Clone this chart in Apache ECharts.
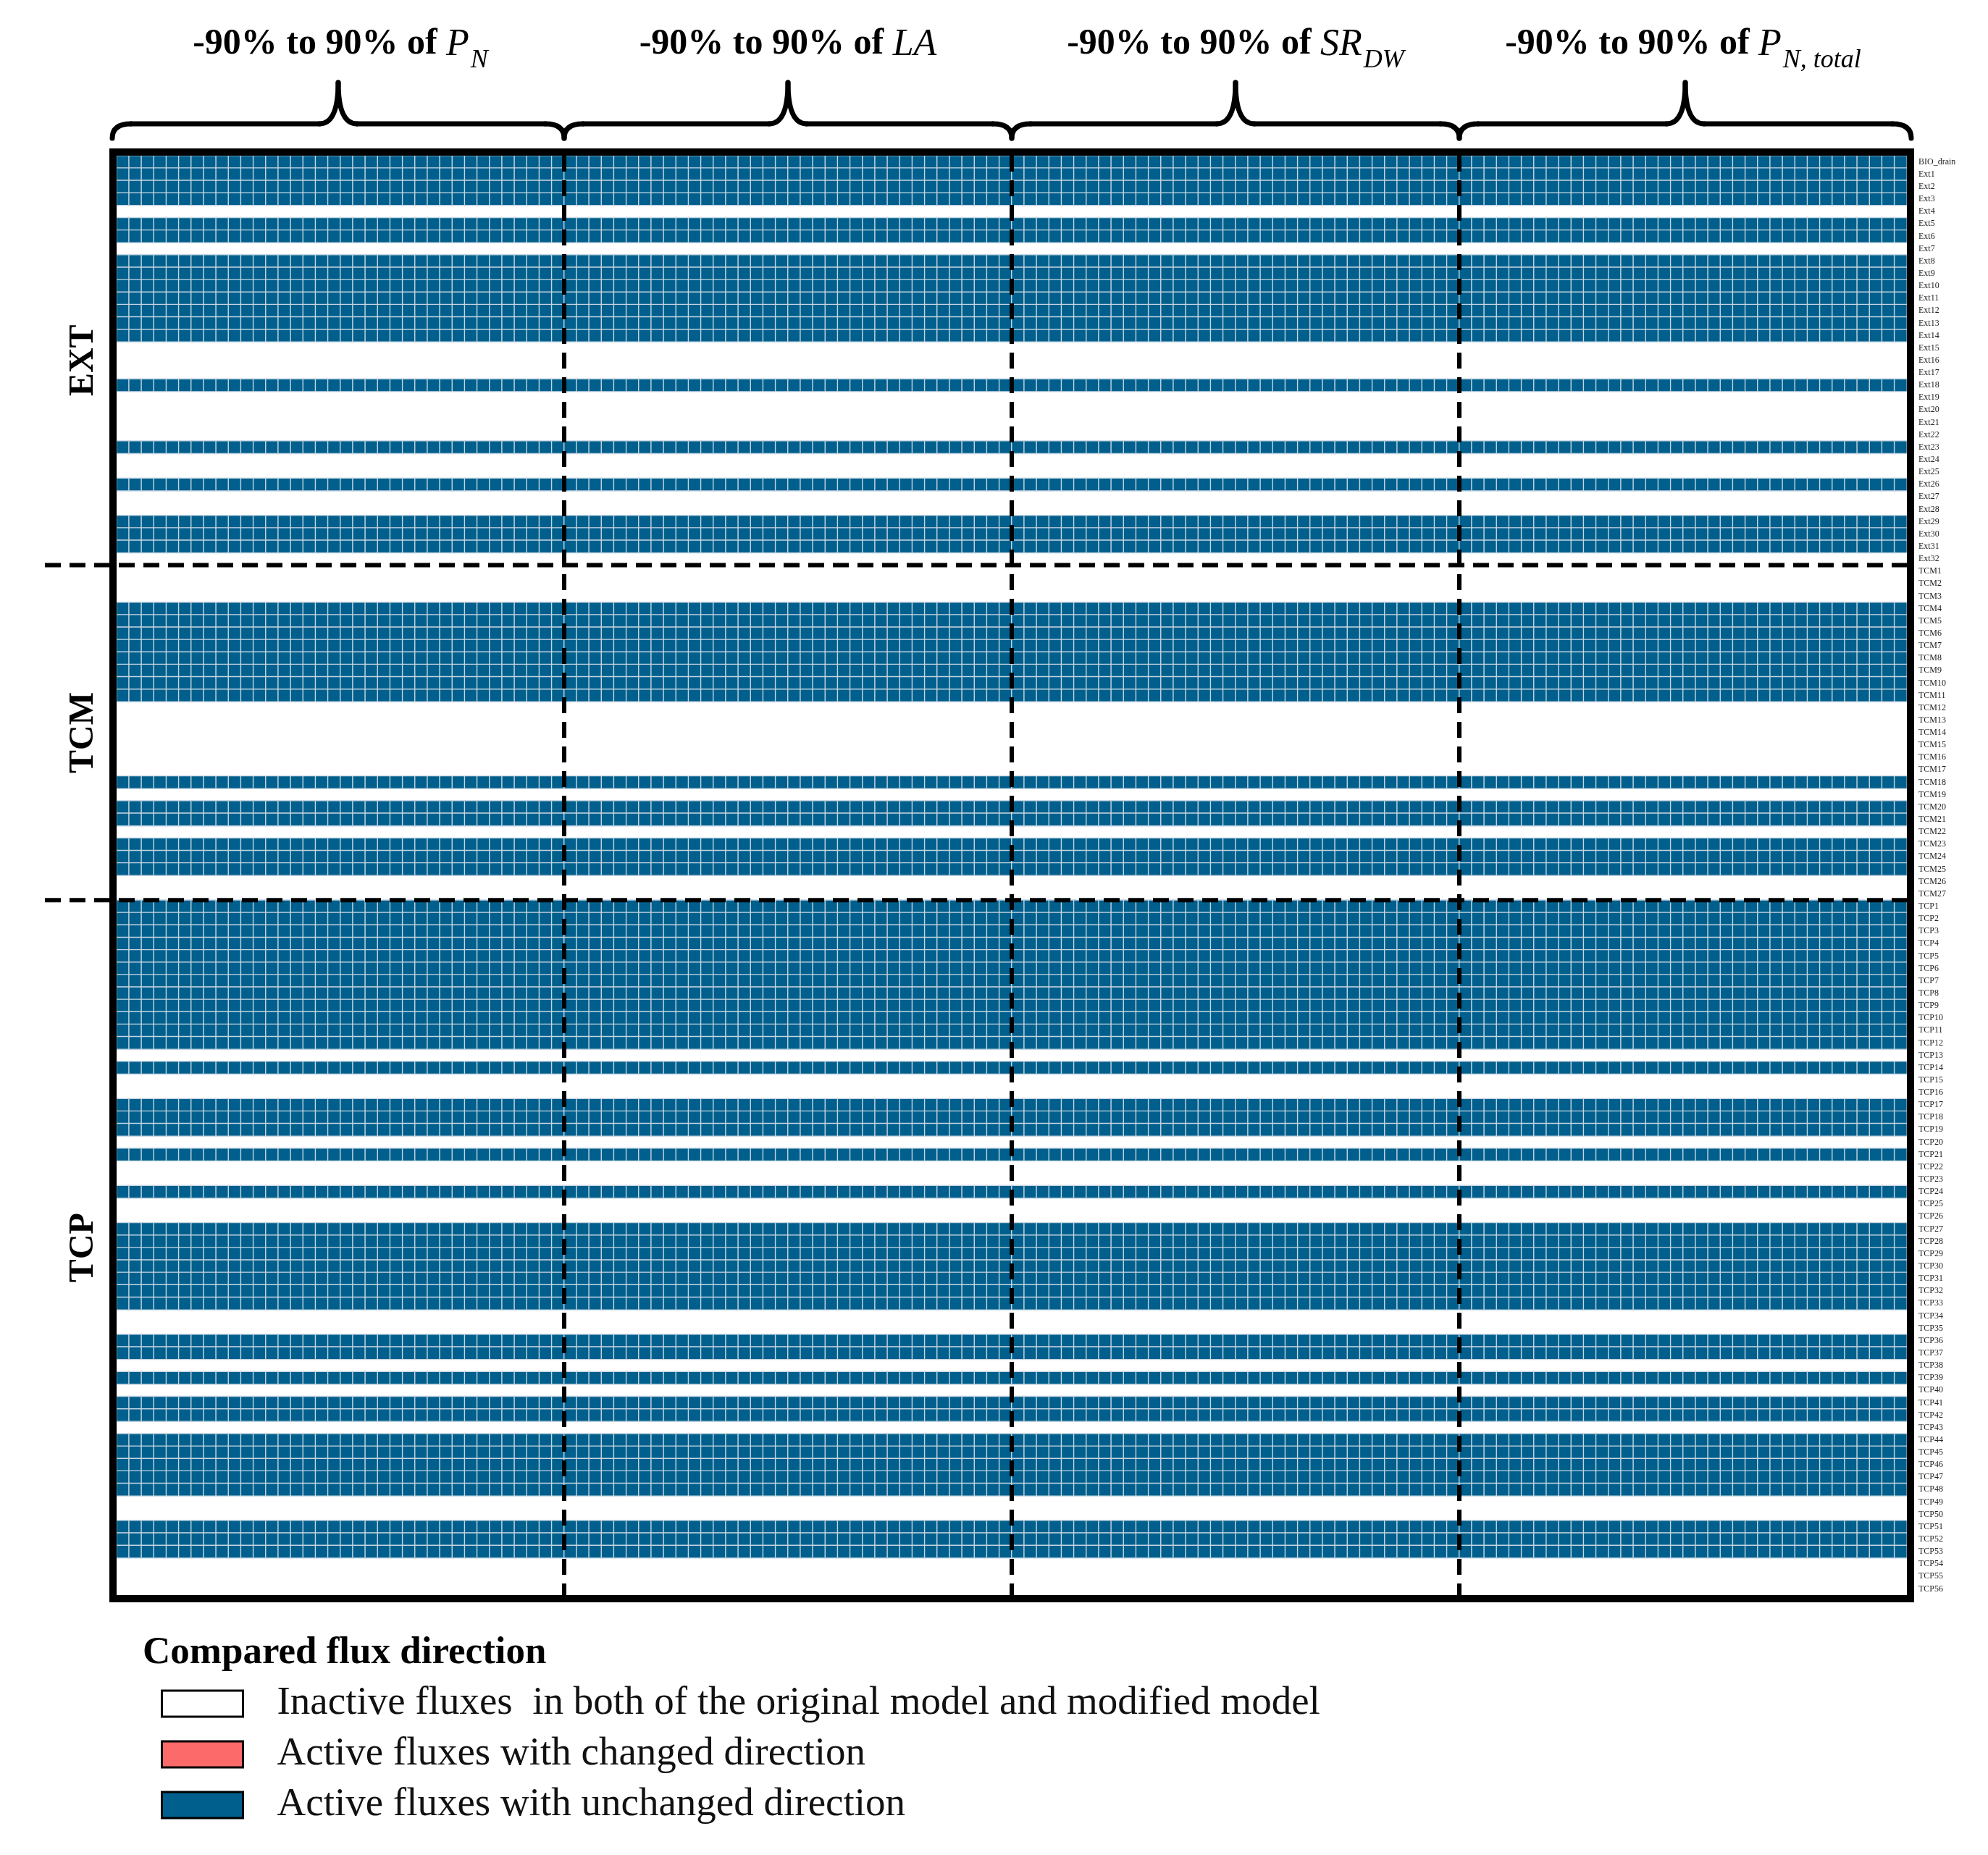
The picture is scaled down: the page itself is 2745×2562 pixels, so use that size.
<!DOCTYPE html>
<html>
<head>
<meta charset="utf-8">
<script src="https://cdn.jsdelivr.net/npm/echarts@6/dist/echarts.min.js"></script>
<style>
html,body{margin:0;padding:0;background:#ffffff;}
#chart{width:2745px;height:2562px;}
</style>
</head>
<body>
<div id="chart"></div>
<script>
// ---------------- DATA ----------------
const parameters = ['P_N', 'LA', 'SR_DW', 'P_N,total'];
const perturbations = ['-90%','-85%','-80%','-75%','-70%','-65%','-60%','-55%','-50%','-45%','-40%','-35%','-30%','-25%','-20%','-15%','-10%','-5%',
                       '5%','10%','15%','20%','25%','30%','35%','40%','45%','50%','55%','60%','65%','70%','75%','80%','85%','90%'];

const extRows = ['BIO_drain'].concat(Array.from({length: 32}, (_, i) => 'Ext' + (i + 1)));
const tcmRows = Array.from({length: 27}, (_, i) => 'TCM' + (i + 1));
const tcpRows = Array.from({length: 56}, (_, i) => 'TCP' + (i + 1));

// status: 0 = inactive in both models, 1 = active with changed direction, 2 = active with unchanged direction
const extStatus = [2,2,2,2,0,2,2,0,2,2,2,2,2,2,2,0,0,0,2,0,0,0,0,2,0,0,2,0,0,2,2,2,0];
const tcmStatus = [0,0,0,2,2,2,2,2,2,2,2,0,0,0,0,0,0,2,0,2,2,0,2,2,2,0,0];
const tcpStatus = [2,2,2,2,2,2,2,2,2,2,2,2,0,2,0,0,2,2,2,0,2,0,0,2,0,0,2,2,2,2,2,2,2,0,0,2,2,0,2,0,2,2,0,2,2,2,2,2,0,0,2,2,2,0,0,0];

const statusNames = ['Inactive fluxes  in both of the original model and modified model',
                     'Active fluxes with changed direction',
                     'Active fluxes with unchanged direction'];
const sectionNames = ['EXT', 'TCM', 'TCP'];

(function () {
// ---------------- BUILD ----------------
const statusColors = ['#ffffff', '#fd6a6a', '#005f8c'];
const rowLabels = extRows.concat(tcmRows, tcpRows);
const rowStatus = extStatus.concat(tcmStatus, tcpStatus);
const xCats = [];
parameters.forEach(p => perturbations.forEach(q => xCats.push(p + ' ' + q)));
const seriesData = [[], [], []];
xCats.forEach((xc, ci) => {
  rowLabels.forEach((rl, ri) => {
    const s = rowStatus[ri];
    seriesData[s].push([ci, ri, s]);
  });
});

const FONT = '"Liberation Serif", "Times New Roman", serif';
const chart = echarts.init(document.getElementById('chart'), null, {renderer: 'canvas'});

chart.setOption({
  animation: false,
  backgroundColor: '#ffffff',
  title: {
    text: 'Compared flux direction',
    left: 197, top: 2257, padding: 0,
    textStyle: {fontFamily: FONT, fontSize: 53, fontWeight: 'bold', color: '#000'}
  },
  legend: {
    orient: 'vertical',
    left: 222, top: 2324, padding: 0,
    itemWidth: 112, itemHeight: 36, itemGap: 12,
    icon: 'rect', selectedMode: false,
    itemStyle: {borderColor: '#000', borderWidth: 3},
    textStyle: {fontFamily: FONT, fontSize: 55, color: '#111', lineHeight: 58, padding: [0, 0, 0, 42]},
    data: statusNames
  },
  grid: {left: 161, top: 215, right: 112, bottom: 359, containLabel: false},
  xAxis: {type: 'category', data: xCats, show: false},
  yAxis: {
    type: 'category', data: rowLabels, inverse: true, position: 'right',
    axisLine: {show: false}, axisTick: {show: false}, splitLine: {show: false},
    axisLabel: {interval: 0, fontFamily: FONT, fontSize: 12, color: '#222', margin: 16}
  },
  visualMap: {
    type: 'piecewise', show: false, dimension: 2, seriesIndex: [0, 1, 2],
    pieces: [{value: 0, color: statusColors[0]}, {value: 1, color: statusColors[1]}, {value: 2, color: statusColors[2]}]
  },
  series: statusNames.map((name, s) => ({
    name: name, type: 'heatmap', data: seriesData[s],
    progressive: 0,
    itemStyle: {color: statusColors[s], borderColor: s === 0 ? '#ffffff' : '#c4d5e1', borderWidth: s === 0 ? 0 : 1.4},
    emphasis: {disabled: true}
  }))
});

// ---------------- DECORATION (positions from the axes) ----------------
function px(ci) { return chart.convertToPixel({xAxisIndex: 0}, xCats[ci]); }
function py(ri) { return chart.convertToPixel({yAxisIndex: 0}, rowLabels[ri]); }
const cellW = px(1) - px(0);
const cellH = py(1) - py(0);
const gL = px(0) - cellW / 2;
const gR = px(xCats.length - 1) + cellW / 2;
const gT = py(0) - cellH / 2;
const gB = py(rowLabels.length - 1) + cellH / 2;
const nPer = perturbations.length;
const bX = g => gL + g * nPer * cellW;

const gfx = [];
gfx.push({type: 'rect', z: 100, shape: {x: gL - 5, y: gT - 5, width: gR - gL + 10, height: gB - gT + 10},
  style: {fill: 'none', stroke: '#000', lineWidth: 10}});
for (let g = 1; g < parameters.length; g++) {
  gfx.push({type: 'line', z: 101, shape: {x1: bX(g), y1: gT, x2: bX(g), y2: gB},
    style: {stroke: '#000', lineWidth: 6, lineDash: [22, 12]}});
}
const secStarts = [0, extRows.length, extRows.length + tcmRows.length, rowLabels.length];
for (let k = 1; k < 3; k++) {
  const yb = gT + secStarts[k] * cellH;
  gfx.push({type: 'line', z: 101, shape: {x1: 62, y1: yb, x2: gR + 8, y2: yb},
    style: {stroke: '#000', lineWidth: 6, lineDash: [22, 12]}});
}
for (let k = 0; k < 3; k++) {
  const ym = gT + (secStarts[k] + secStarts[k + 1]) / 2 * cellH;
  gfx.push({type: 'text', z: 101, x: 116, y: ym, rotation: Math.PI / 2,
    style: {text: sectionNames[k], fontFamily: FONT, fontSize: 48, fontWeight: 'bold', fill: '#000', align: 'center', verticalAlign: 'middle'}});
}
const titleRich = [
  '{b|-90% to 90% of }{i|P}{s|N}',
  '{b|-90% to 90% of }{i|LA}',
  '{b|-90% to 90% of }{i|SR}{s|DW}',
  '{b|-90% to 90% of }{i|P}{s|N, total}'
];
const yEnd = gT - 24, yBar = gT - 44, yTip = gT - 101, r = 26;
const bst = {fill: 'none', stroke: '#000', lineWidth: 7, lineCap: 'round'};
function curve(xa, ya, cx, cy, xb, yb) {
  return {type: 'bezierCurve', z: 101, shape: {x1: xa, y1: ya, cpx1: cx, cpy1: cy, x2: xb, y2: yb}, style: bst};
}
function seg(xa, ya, xb, yb) {
  return {type: 'line', z: 101, shape: {x1: xa, y1: ya, x2: xb, y2: yb}, style: bst};
}
for (let g = 0; g < parameters.length; g++) {
  const x0 = g === 0 ? gL - 6 : bX(g);
  const x1 = g === parameters.length - 1 ? gR + 6 : bX(g + 1);
  const xm = (x0 + x1) / 2;
  gfx.push(curve(x0, yEnd, x0, yBar, x0 + r, yBar));
  gfx.push(seg(x0 + r, yBar, xm - r, yBar));
  gfx.push(curve(xm - r, yBar, xm, yBar, xm, yTip));
  gfx.push(curve(xm, yTip, xm, yBar, xm + r, yBar));
  gfx.push(seg(xm + r, yBar, x1 - r, yBar));
  gfx.push(curve(x1 - r, yBar, x1, yBar, x1, yEnd));
  gfx.push({type: 'text', z: 101, x: bX(g) + nPer * cellW / 2, y: 64,
    style: {
      text: titleRich[g], align: 'center', verticalAlign: 'middle',
      rich: {
        b: {fontFamily: FONT, fontSize: 50, fontWeight: 'bold', fill: '#000', lineHeight: 56, verticalAlign: 'top'},
        i: {fontFamily: FONT, fontSize: 52, fontStyle: 'italic', fill: '#000', lineHeight: 56, verticalAlign: 'top'},
        s: {fontFamily: FONT, fontSize: 36, fontStyle: 'italic', fill: '#000', lineHeight: 36, padding: [30, 0, 0, 2], verticalAlign: 'top'}
      }
    }});
}
chart.setOption({graphic: {elements: gfx}});
})();
</script>
</body>
</html>
